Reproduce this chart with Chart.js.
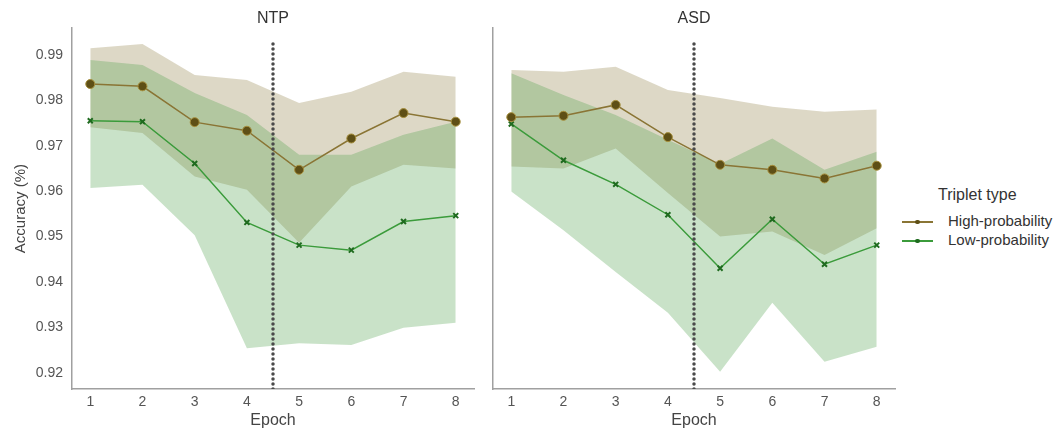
<!DOCTYPE html>
<html>
<head>
<meta charset="utf-8">
<script src="https://cdn.jsdelivr.net/npm/chart.js@4.4.0/dist/chart.umd.min.js"></script>
<style>
    body { margin: 0; background: #fff; font-family: "Liberation Sans", Arial, sans-serif; }
    #wrap { position: relative; width: 1059px; height: 433px; overflow: hidden; }
    .panel { position: absolute; top: 0; width: 480px; height: 433px; }
    #legend { position: absolute; left: 900px; top: 186px; color: #333; z-index: 2; }
    .leg-title { position: absolute; left: 38px; top: 0; font-size: 16px; white-space: nowrap; }
    .leg-row { position: absolute; left: 0; height: 18px; white-space: nowrap; font-size: 15px; }
    .leg-line { position: absolute; left: 2px; top: 9px; width: 31px; height: 1.5px; }
    .leg-dot { position: absolute; left: 15px; top: 7.5px; width: 4.5px; height: 4.5px; border-radius: 50%; }
    .leg-text { position: absolute; left: 48px; top: 0; line-height: 18px; }
</style>
</head>
<body>
<div id="wrap">
    <div class="panel" style="left:0"><canvas id="ntpChart" width="480" height="433"></canvas></div>
    <div class="panel" style="left:421px"><canvas id="asdChart" width="480" height="433"></canvas></div>
    <div id="legend">
        <div class="leg-title">Triplet type</div>
        <div class="leg-row" style="top:26px">
            <div class="leg-line" style="background:#8a7535"></div>
            <div class="leg-dot" style="background:#5e4f16"></div>
            <div class="leg-text">High-probability</div>
        </div>
        <div class="leg-row" style="top:45px">
            <div class="leg-line" style="background:#3b9b3b"></div>
            <div class="leg-dot" style="background:#1f6b1f"></div>
            <div class="leg-text">Low-probability</div>
        </div>
    </div>
</div>
<script>
// Data
const epochs = [1, 2, 3, 4, 5, 6, 7, 8];

const ntpHigh      = [0.9836, 0.9831, 0.9752, 0.9733, 0.9647, 0.9716, 0.9772, 0.9753];
const ntpHighUpper = [0.9915, 0.9924, 0.9856, 0.9845, 0.9794, 0.9819, 0.9863, 0.9852];
const ntpHighLower = [0.9741, 0.9728, 0.9632, 0.9603, 0.9486, 0.9610, 0.9658, 0.9650];
const ntpLow       = [0.9755, 0.9753, 0.9661, 0.9531, 0.9481, 0.9470, 0.9533, 0.9546];
const ntpLowUpper  = [0.9889, 0.9878, 0.9816, 0.9768, 0.9680, 0.9680, 0.9724, 0.9753];
const ntpLowLower  = [0.9607, 0.9614, 0.9503, 0.9254, 0.9265, 0.9261, 0.9299, 0.9310];

const asdHigh      = [0.9763, 0.9766, 0.9790, 0.9719, 0.9658, 0.9647, 0.9628, 0.9656];
const asdHighUpper = [0.9867, 0.9863, 0.9874, 0.9823, 0.9805, 0.9786, 0.9775, 0.9780];
const asdHighLower = [0.9654, 0.9650, 0.9694, 0.9596, 0.9500, 0.9511, 0.9459, 0.9518];
const asdLow       = [0.9748, 0.9668, 0.9615, 0.9548, 0.9430, 0.9538, 0.9439, 0.9481];
const asdLowUpper  = [0.9860, 0.9812, 0.9768, 0.9713, 0.9660, 0.9716, 0.9647, 0.9687];
const asdLowLower  = [0.9599, 0.9514, 0.9422, 0.9332, 0.9202, 0.9354, 0.9224, 0.9257];

const yTicks = [0.92, 0.93, 0.94, 0.95, 0.96, 0.97, 0.98, 0.99];
const boundaryEpoch = 4.5;
const boundaryTop = 0.9926;

const Y_MIN = 0.9164, Y_MAX = 0.9959;
const X_MIN = 0.65, X_MAX = 8.35;

const pts = arr => epochs.map((e, i) => ({ x: e, y: arr[i] }));

function makeChart(canvasId, title, showY, high, highUp, highLo, low, lowUp, lowLo) {
    const band = (arr, color, fill) => ({
        data: pts(arr),
        borderWidth: 0,
        pointRadius: 0,
        backgroundColor: color,
        fill: fill
    });

    return new Chart(document.getElementById(canvasId), {
        type: 'line',
        data: {
            datasets: [
                {
                    // phase boundary
                    data: [{ x: boundaryEpoch, y: Y_MIN }, { x: boundaryEpoch, y: boundaryTop }],
                    borderColor: '#4a4a4a',
                    borderWidth: 3.5,
                    borderDash: [0, 5],
                    borderCapStyle: 'round',
                    pointRadius: 0,
                    fill: false
                },
                {
                    data: pts(high),
                    borderColor: '#8a7535',
                    borderWidth: 1.5,
                    pointStyle: 'circle',
                    pointRadius: 4.5,
                    pointBackgroundColor: '#5e4f16',
                    pointBorderColor: '#a68f3c',
                    pointBorderWidth: 1,
                    fill: false
                },
                {
                    data: pts(low),
                    borderColor: '#3b9b3b',
                    borderWidth: 1.5,
                    pointStyle: 'crossRot',
                    pointRadius: 3.5,
                    pointBorderColor: '#1f6b1f',
                    pointBorderWidth: 2,
                    fill: false
                },
                band(lowUp, 'rgba(75, 158, 72, 0.3)', '+1'),
                band(lowLo, 'rgba(0,0,0,0)', false),
                band(highUp, 'rgba(142, 125, 65, 0.3)', '+1'),
                band(highLo, 'rgba(0,0,0,0)', false)
            ]
        },
        options: {
            responsive: false,
            animation: false,
            events: [],
            layout: { padding: { left: 0, right: 5, top: 0, bottom: 0 } },
            elements: { line: { tension: 0 } },
            plugins: {
                legend: { display: false },
                tooltip: { enabled: false },
                title: {
                    display: true,
                    text: title,
                    fullSize: false,
                    color: '#333',
                    font: { family: 'Liberation Sans', size: 16, weight: 'normal' },
                    padding: { top: 9, bottom: 0 }
                }
            },
            scales: {
                x: {
                    type: 'linear',
                    min: X_MIN,
                    max: X_MAX,
                    grid: { display: false, drawTicks: false },
                    border: { display: true, color: '#a0a0a0', width: 1.5 },
                    afterFit: s => { s.height = 44; },
                    ticks: {
                        stepSize: 1,
                        includeBounds: false,
                        autoSkip: false,
                        padding: 5,
                        color: '#555',
                        font: { family: 'Liberation Sans', size: 14 },
                        maxRotation: 0,
                        callback: v => v
                    },
                    title: {
                        display: true,
                        text: 'Epoch',
                        color: '#444',
                        font: { family: 'Liberation Sans', size: 16 },
                        padding: { top: 0, bottom: 3 }
                    }
                },
                y: {
                    min: Y_MIN,
                    max: Y_MAX,
                    grid: { display: false, drawTicks: false },
                    border: { display: true, color: '#a0a0a0', width: 1.5 },
                    afterFit: s => { s.width = 72; },
                    afterBuildTicks: s => { s.ticks = yTicks.map(v => ({ value: v })); },
                    ticks: {
                        display: showY,
                        padding: 9,
                        color: '#555',
                        font: { family: 'Liberation Sans', size: 14 },
                        callback: v => v.toFixed(2)
                    },
                    title: {
                        display: showY,
                        text: 'Accuracy (%)',
                        color: '#444',
                        font: { family: 'Liberation Sans', size: 15 },
                        padding: { top: 12, bottom: 0 }
                    }
                }
            }
        }
    });
}

makeChart('ntpChart', 'NTP', true, ntpHigh, ntpHighUpper, ntpHighLower, ntpLow, ntpLowUpper, ntpLowLower);
makeChart('asdChart', 'ASD', false, asdHigh, asdHighUpper, asdHighLower, asdLow, asdLowUpper, asdLowLower);
</script>
</body>
</html>
